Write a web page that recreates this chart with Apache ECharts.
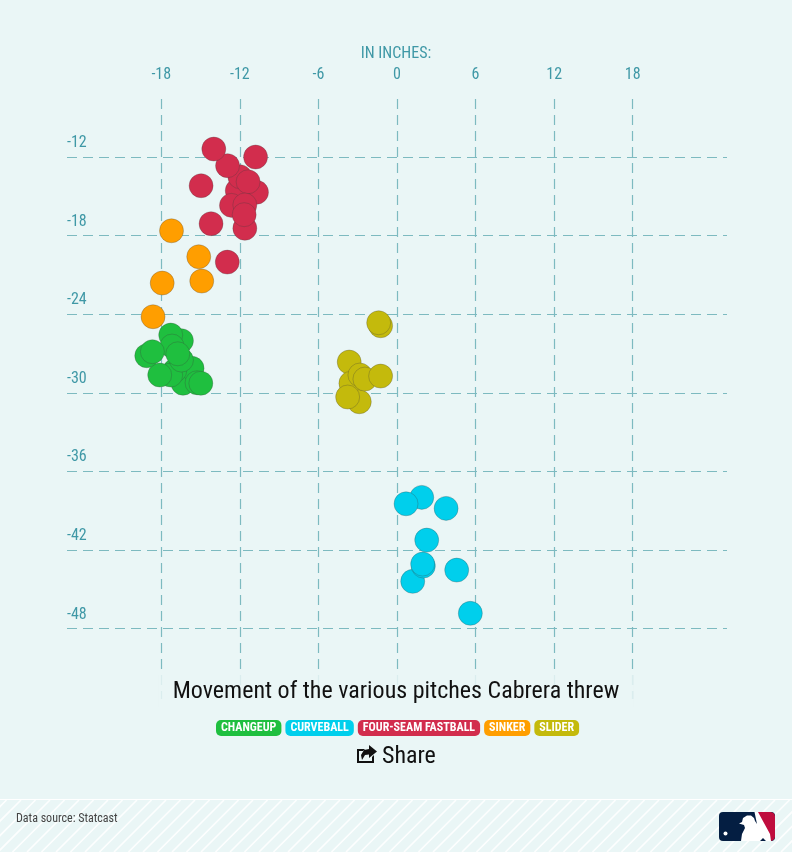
<!DOCTYPE html>
<html>
<head>
<meta charset="utf-8">
<style>html,body{margin:0;padding:0;background:#eaf6f6}#c{width:792px;height:852px}</style>
<script src="https://cdn.jsdelivr.net/npm/echarts@6/dist/echarts.min.js"></script>
</head>
<body>
<div id="c"></div>
<script>
const xTicks = [-18,-12,-6,0,6,12,18];
const yTicks = [-12,-18,-24,-30,-36,-42,-48];
// [horizontal inches, vertical inches]
const changeup = [[-16.34,-29.27],[-15.65,-28.13],[-16.97,-28.3],[-17.28,-28.64],[-15.27,-29.23],[-14.98,-29.27],[-18.12,-28.64],[-16.46,-26.02],[-17.28,-25.59],[-17.18,-26.43],[-19.11,-27.17],[-18.68,-26.86],[-16.46,-27.5],[-16.74,-27.02]];
const curveball = [[1.89,-37.98],[0.69,-38.47],[3.75,-38.82],[2.27,-41.24],[1.2,-44.39],[2.01,-43.22],[1.96,-43.07],[4.56,-43.53],[5.6,-46.83]];
const fourSeam = [[-10.73,-14.69],[-12.2,-14.57],[-12.64,-15.69],[-12.0,-13.5],[-12.94,-12.66],[-11.37,-13.89],[-11.62,-17.44],[-11.62,-15.66],[-11.67,-16.4],[-13.99,-11.39],[-10.8,-12],[-14.96,-14.19],[-14.2,-17.09],[-12.96,-20.02]];
const sinker = [[-17.22,-17.63],[-15.14,-19.61],[-17.93,-21.62],[-14.91,-21.47],[-18.63,-24.19]];
const slider = [[-1.25,-24.88],[-1.4,-24.65],[-3.65,-27.65],[-3.52,-29.27],[-2.88,-30.68],[-2.83,-28.64],[-2.45,-28.95],[-3.77,-30.32],[-1.25,-28.72]];
const seriesNames = ['CHANGEUP','CURVEBALL','FOUR-SEAM FASTBALL','SINKER','SLIDER'];
const seriesData = [changeup,curveball,fourSeam,sinker,slider];
const seriesColors = ['#1fbf3f','#00cfec','#d22d4d','#ff9e00','#c4ba0c'];

const teal = '#3f98a6';
const gridLine = '#7dbac0';
const condensed = '"Roboto Condensed","Liberation Sans Narrow","Roboto",sans-serif';

const stripes = [];
for (let x = -60; x < 800; x += 14.5) {
  stripes.push({type:'line',silent:true,z:0,shape:{x1:x,y1:852,x2:x+52,y2:800},style:{stroke:'#fff',lineWidth:1.6,opacity:.9}});
}
const chart = echarts.init(document.getElementById('c'),null,{renderer:'canvas'});
chart.setOption({
  animation:false,
  backgroundColor:'#eaf6f6',
  textStyle:{fontFamily:condensed},
  title:{
    text:'Movement of the various pitches Cabrera threw',
    left:'center',top:675,padding:[4,14,3,14],
    backgroundColor:'rgba(234,246,246,.85)',
    textStyle:{fontFamily:condensed,fontSize:24,fontWeight:'normal',color:'#111',lineHeight:25}
  },
  legend:{
    left:210,top:720,itemWidth:0,itemHeight:0,itemGap:-2,icon:'rect',selectedMode:false,padding:0,
    data:seriesNames.map((n,i)=>({name:n,textStyle:{
      color:'#fff',fontWeight:'bold',fontSize:12,fontFamily:condensed,
      backgroundColor:seriesColors[i],borderRadius:5,lineHeight:16,height:16,padding:[0,5,0,5]
    }}))
  },
  grid:{left:67,right:65,top:99,bottom:153,containLabel:false},
  xAxis:{
    type:'value',position:'top',min:-25.2,max:25.2,
    axisLine:{show:false},
    axisTick:{show:false,customValues:xTicks},
    axisLabel:{customValues:xTicks,color:teal,fontSize:16,margin:16,fontFamily:condensed},
    splitLine:{show:true,lineStyle:{color:gridLine,type:[10,6],width:1.2}}
  },
  yAxis:{
    type:'value',min:-53.37,max:-7.57,
    axisLine:{show:false},
    axisTick:{show:false,customValues:yTicks},
    axisLabel:{customValues:yTicks,inside:true,margin:0,color:teal,fontSize:16,fontFamily:condensed,
      verticalAlign:'bottom',padding:[0,0,6,0],align:'left'},
    splitLine:{show:true,lineStyle:{color:gridLine,type:[10,6],width:1.2}}
  },
  series:seriesNames.map((n,i)=>({
    name:n,type:'scatter',data:seriesData[i],symbolSize:24,
    itemStyle:{color:seriesColors[i],opacity:1,borderColor:'rgba(60,60,60,.28)',borderWidth:1}
  })),
  graphic:{elements:[
    {type:'text',left:'center',top:46,style:{text:'IN INCHES:',fill:teal,font:'16px '+condensed}},
    {type:'text',x:382,y:745,style:{text:'Share',fill:'#111',font:'24px '+condensed}},
    {type:'polygon',shape:{points:[[357,749],[365,749],[363,751],[359,751],[359,761],[372,761],[372,757],[374,755],[374,763],[357,763]]},style:{fill:'#111'}},
    {type:'polygon',shape:{points:[[369,745],[377,751.5],[369,758],[369,754.5],[365,755],[362,760],[361,755],[364,750],[369,749]]},style:{fill:'#111'}},
    {type:'rect',silent:true,z:0,shape:{x:0,y:799,width:792,height:53},style:{fill:'#eaf6f6'}},
    {type:'group',z:0,children:stripes},
    {type:'line',z:1,shape:{x1:0,y1:799.5,x2:792,y2:799.5},style:{stroke:'#fff',lineWidth:1.2}},
    {type:'text',z:2,x:16,y:813,style:{text:'Data source: Statcast',fill:'#444',font:'12px '+condensed}},
    {type:'rect',z:2,shape:{x:719,y:812,width:56,height:29,r:4},style:{fill:'#041e42'}},
    {type:'polygon',z:3,shape:{points:[[757,812],[771,812],[773.8,813.2],[775,816],[775,837],[773.8,839.8],[771,841],[769,841]]},style:{fill:'#bf0d3e'}},
    {type:'polygon',z:4,shape:{points:[[741,841],[742,834],[745,828],[744,825],[739,823.5],[742,822],[743,818],[747,815.5],[751,815.5],[754,818],[755,821],[757,824],[754.5,812],[758,812],[770,834],[771,841],[766,841],[763,838],[760,841]]},style:{fill:'#fff'}},
    {type:'circle',z:4,shape:{cx:725.5,cy:833.5,r:2},style:{fill:'#fff'}}
  ]}
});
</script>
</body>
</html>
